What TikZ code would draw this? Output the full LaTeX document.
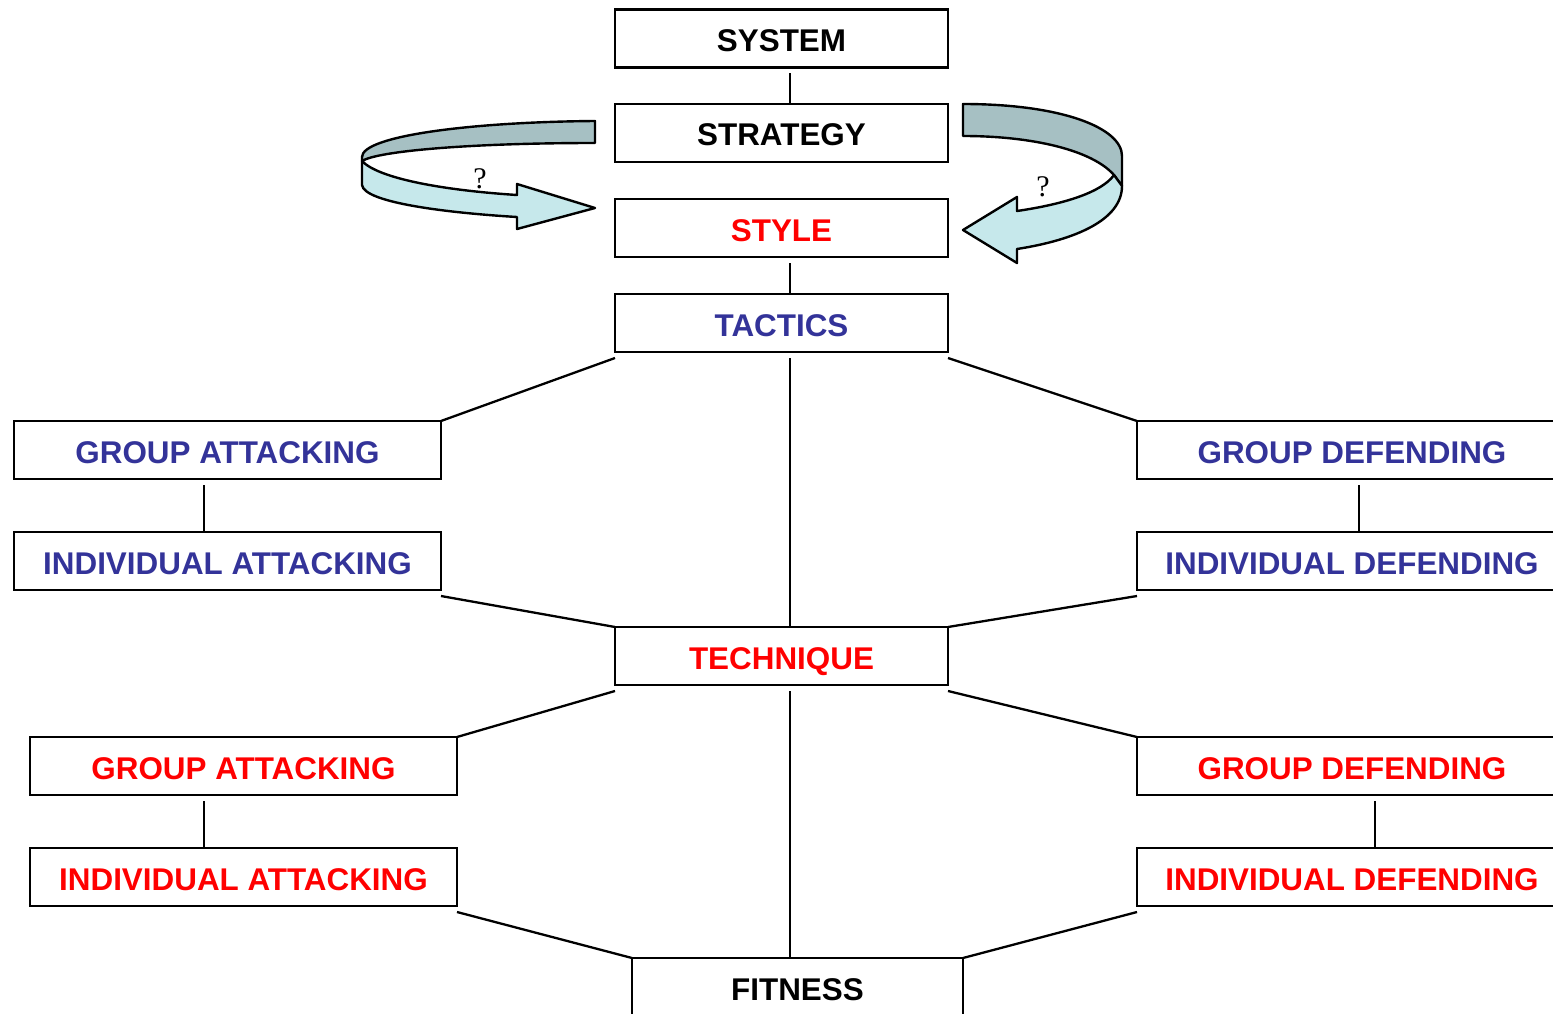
\documentclass[tikz,border=0pt]{standalone}
\usepackage{fontspec}
\setmainfont{Liberation Sans}
\newfontfamily\qfont{Liberation Serif}
\usetikzlibrary{calc}
\definecolor{navytext}{RGB}{51,51,153}
\definecolor{redtext}{RGB}{255,0,0}
\definecolor{ribbondark}{RGB}{166,192,195}
\definecolor{ribbonlight}{RGB}{198,232,235}
\tikzset{
  box/.style={draw=black, line width=2.6pt, rectangle, inner sep=0pt, outer sep=0pt,
    minimum height=58pt, text height=26pt, text depth=0pt,
    font=\fontsize{31.4}{31.4}\selectfont\bfseries},
  midbox/.style={box, minimum width=333pt},
  sidebox/.style={box, minimum width=427pt},
  rightbox/.style={box, minimum width=430pt},
  link/.style={draw=black, line width=2.3pt},
  ribbon/.style={draw=black, line width=2.4pt, line join=round},
  qmark/.style={font=\qfont\fontsize{30}{30}\selectfont, inner sep=0pt}
}
\begin{document}
\begin{tikzpicture}[x=1pt, y=-1pt]
\useasboundingbox (0,0) rectangle (1553,1014);
\clip (0,0) rectangle (1553,1014);
\fill[white] (0,0) rectangle (1553,1014);

% central column
\node[midbox] (system)    at (781.5,38.5) {SYSTEM};
\node[midbox] (strategy)  at (781.5,133)  {STRATEGY};
\node[midbox, text=redtext] (style) at (781.5,228) {STYLE};
\node[midbox, text=navytext] (tactics) at (781.5,323) {TACTICS};
\node[midbox, text=redtext] (technique) at (781.5,656) {TECHNIQUE};
\node[box, minimum width=331pt] (fitness) at (797.5,987) {FITNESS};

% tactical branches
\node[sidebox, text=navytext] (ga1) at (227.5,450) {GROUP ATTACKING};
\node[sidebox, text=navytext] (ia1) at (227.5,561) {INDIVIDUAL ATTACKING};
\node[rightbox, text=navytext] (gd1) at (1352,450) {GROUP DEFENDING};
\node[rightbox, text=navytext] (id1) at (1352,561) {INDIVIDUAL DEFENDING};

% technical branches
\node[sidebox, text=redtext] (ga2) at (243.5,766) {GROUP ATTACKING};
\node[sidebox, text=redtext] (ia2) at (243.5,877) {INDIVIDUAL ATTACKING};
\node[rightbox, text=redtext] (gd2) at (1352,766) {GROUP DEFENDING};
\node[rightbox, text=redtext] (id2) at (1352,877) {INDIVIDUAL DEFENDING};

% vertical links
\draw[link] ($(system.south)+(8.5,6)$) -- ($(strategy.north)+(8.5,0)$);
\draw[link] ($(style.south)+(8.5,6)$) -- ($(tactics.north)+(8.5,0)$);
\draw[link] ($(tactics.south)+(8.5,6)$) -- ($(technique.north)+(8.5,0)$);
\draw[link] ($(technique.south)+(8.5,6)$) -- ($(fitness.north)+(-7.5,0)$);
\draw[link] ($(ga1.south)+(-23.5,6)$) -- ($(ia1.north)+(-23.5,0)$);
\draw[link] ($(gd1.south)+(7,6)$) -- ($(id1.north)+(7,0)$);
\draw[link] ($(ga2.south)+(-39.5,6)$) -- ($(ia2.north)+(-39.5,0)$);
\draw[link] ($(gd2.south)+(23,6)$) -- ($(id2.north)+(23,0)$);

% diagonal links
\draw[link] ($(tactics.south west)+(0,6)$) -- (ga1.north east);
\draw[link] ($(tactics.south east)+(0,6)$) -- (gd1.north west);
\draw[link] ($(ia1.south east)+(0,6)$) -- (technique.north west);
\draw[link] ($(id1.south west)+(0,6)$) -- (technique.north east);
\draw[link] ($(technique.south west)+(0,6)$) -- (ga2.north east);
\draw[link] ($(technique.south east)+(0,6)$) -- (gd2.north west);
\draw[link] ($(ia2.south east)+(0,6)$) -- (fitness.north west);
\draw[link] ($(id2.south west)+(0,6)$) -- (fitness.north east);

% left curled arrow: back band
\draw[ribbon, fill=ribbondark]
  (595,121) .. controls (470,122) and (362,136) .. (362,157)
  -- (362,161) .. controls (378,151) and (470,143) .. (595,143) -- cycle;
% left curled arrow: front band with head
\draw[ribbon, fill=ribbonlight]
  (362,161) -- (362,185) .. controls (364,203) and (450,213) .. (517,217)
  -- (517,229) -- (595,208) -- (517,184) -- (517,195)
  .. controls (440,190) and (378,178) .. (362,161) -- cycle;

% right curled arrow: back band
\draw[ribbon, fill=ribbondark]
  (963,104) .. controls (1062,104) and (1122,128) .. (1122,156)
  -- (1122,186) -- (1114,175) .. controls (1092,150) and (1032,136) .. (963,136) -- cycle;
% right curled arrow: front band with head
\draw[ribbon, fill=ribbonlight]
  (1114,175) -- (1122,186) .. controls (1122,220) and (1075,240) .. (1017,249)
  -- (1017,263) -- (963,230) -- (1017,197) -- (1017,211)
  .. controls (1065,204) and (1102,192) .. (1114,175) -- cycle;

% question marks
\node[qmark] (qleft)  at (480,179) {?};
\node[qmark] (qright) at (1043,187) {?};
\end{tikzpicture}
\end{document}
